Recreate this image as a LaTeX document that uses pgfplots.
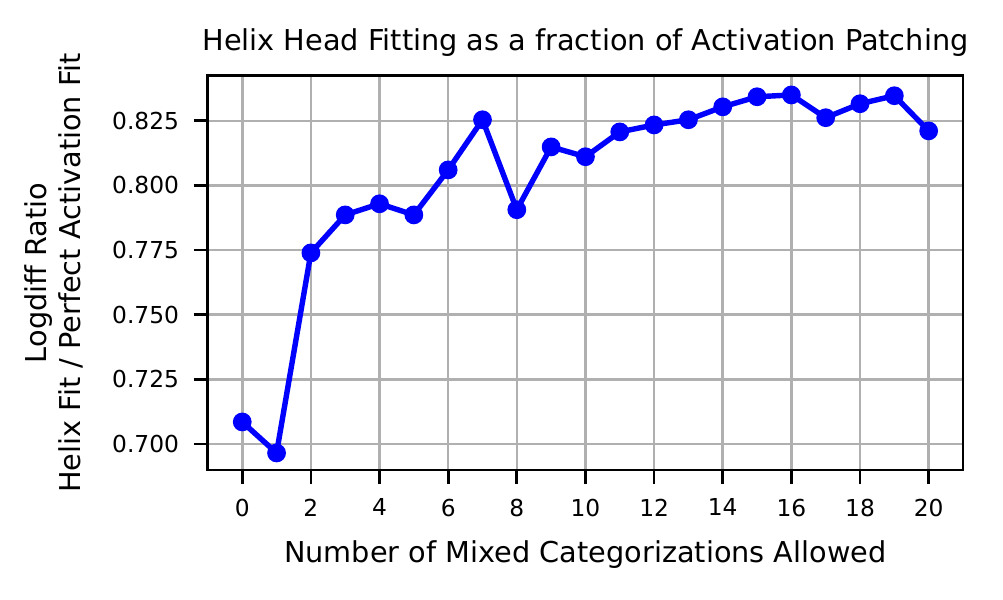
\documentclass[border=0pt]{standalone}
\usepackage{pgfplots}
\pgfplotsset{compat=1.18}
\usepackage{fontspec}
\setmainfont{DejaVu Sans}
\begin{document}
\begin{tikzpicture}
\useasboundingbox (-49.9pt,-31.0pt) rectangle (190.8pt,112.8pt);
\begin{axis}[
  scale only axis,
  width=181.2pt, height=94.6pt,
  xmin=-1, xmax=21, ymin=0.6899, ymax=0.8424,
  xtick={0,2,...,20},
  ytick={0.700,0.725,0.750,0.775,0.800,0.825},
  yticklabel style={/pgf/number format/.cd,fixed,fixed zerofill,precision=3},
  /pgf/number format/assume math mode=true,
  tick label style={font=\fontsize{5.6}{6.5}\selectfont},
  tick align=outside, tick pos=left,
  major tick length=3.4pt,
  every tick/.style={black, line width=0.65pt},
  axis line style={line width=0.7pt},
  grid=major,
  major grid style={color=black!31, line width=0.6pt},
  title={Helix Head Fitting as a fraction of Activation Patching},
  title style={font=\fontsize{6.9}{8}\selectfont, yshift=-4.9pt},
  xlabel={Number of Mixed Categorizations Allowed},
  ylabel={Logdiff Ratio\\Helix Fit / Perfect Activation Fit},
  label style={font=\fontsize{6.9}{8.2}\selectfont},
  xlabel style={yshift=1pt},
  ylabel style={align=center},
]
\addplot[color=blue, line width=1.3pt, mark=*, mark size=2.1pt, mark options={fill=blue, line width=0.3pt}]
coordinates {
(0,0.7085) (1,0.6965) (2,0.7739) (3,0.7886) (4,0.7929) (5,0.7886)
(6,0.8060) (7,0.8254) (8,0.7906) (9,0.8149) (10,0.8111) (11,0.8207)
(12,0.8234) (13,0.8254) (14,0.8304) (15,0.8343) (16,0.8350) (17,0.8262)
(18,0.8316) (19,0.8347) (20,0.8211)
};
\end{axis}
\end{tikzpicture}
\end{document}
